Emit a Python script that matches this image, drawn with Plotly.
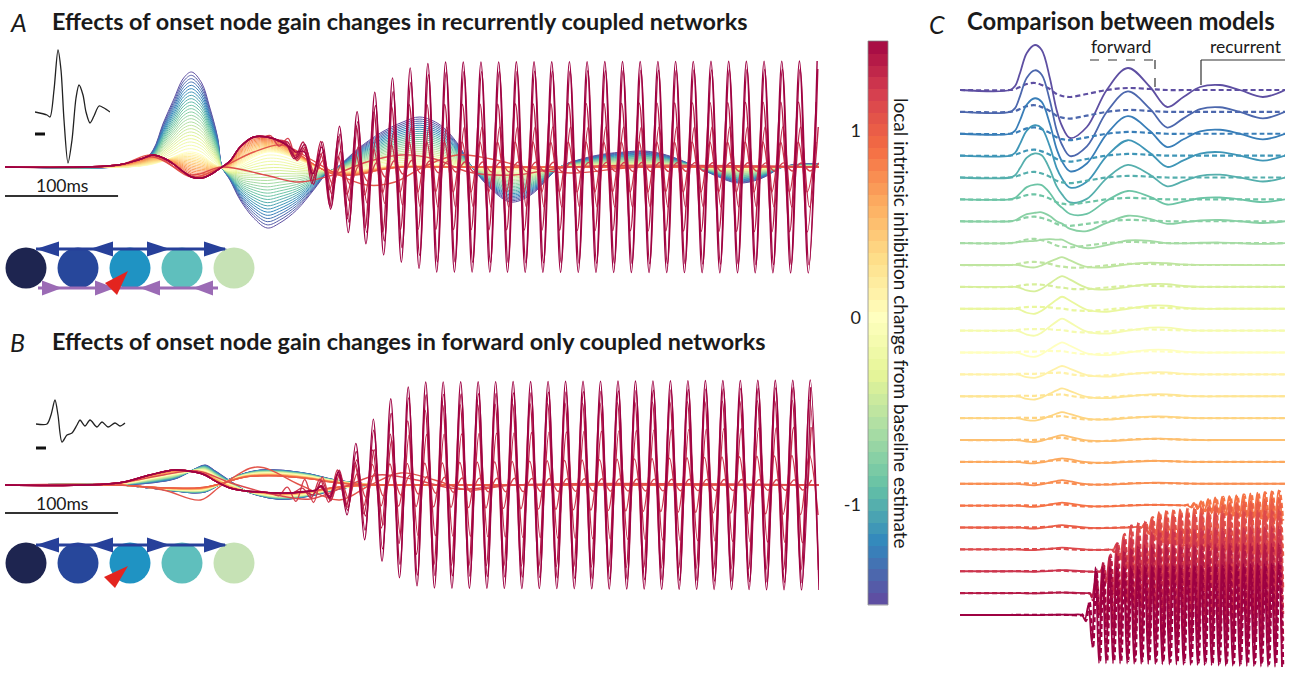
import numpy as np
import plotly.graph_objects as go
from plotly.colors import diverging, make_colorscale, sample_colorscale

W, H = 1290, 675

# ---------------------------------------------------------------- data
# colour-bar values (local intrinsic inhibition change) of the simulated traces
GAINS = [-1.5 + 0.0625 * k for k in range(49)]
FAN_MAX = 1.0           # traces above this gain turn oscillatory / slow-wave

# ---- Panel A: recurrent network, waveform templates (time ms, amplitude)
TA = [0, 100, 120, 131, 140, 149, 158, 165, 174, 181, 188, 192, 199, 208, 220, 232, 243, 258, 273, 285,
      294, 312, 332, 352, 367, 385, 400, 413, 430, 447, 465, 491, 510, 530, 548, 566, 585, 606, 627, 648,
      668, 688, 705, 720]
A_NEG = [0, 0, 4, 17, 44, 67, 89, 95, 84, 60, 30, 0, -13, -33, -51, -61, -56, -43, -23, -6,
         0, 18, 34, 45, 50, 42, 24, 0, -22, -35, -28, 0, 8, 13, 15, 16, 12, 3, -8, -16,
         -12, 0, 3, 3]
A_ZERO = [0, 0, 1, 3, 6, 10, 14, 15, 12, 6, 1, -1, -3, 2, 10, 15, 14, 8, 1, -3,
          -4, -3, 0, 1, 1, 1, 0, 0, -1, -1, -1, 0, 0, 0, 0, 0, 0, 0, 0, 0,
          0, 0, 0, 0]
A_POS = [0, 2, 8, 12, 9, 3, -5, -10, -11, -8, -3, 0, 6, 20, 30, 30, 26, 15, 3, -5,
         -8, -8, -3, 0, 0, 0, 0, 0, 0, 0, 0, 0, 0, 0, 0, 0, 0, 0, 0, 0,
         0, 0, 0, 0]
A_SLOW1_T = [0, 100, 131, 165, 192, 220, 245, 270, 290, 320, 345, 370, 400, 430, 460, 500, 560, 720]
A_SLOW1_V = [0, 2, 12, -10, 0, 15, 22, 8, -5, -18, -15, 0, 12, 8, 0, -6, 0, 0]
A_SLOW2_T = [0, 100, 131, 165, 192, 230, 260, 290, 320, 350, 380, 410, 450, 500, 720]
A_SLOW2_V = [0, 2, 10, -8, 0, -8, -15, -8, 5, 12, 8, -5, -8, 0, 0]
A_PERIOD = 15.65
A_PEAK_REF = 358.4
A_OSC_GAINS = [1.1875, 1.25, 1.3125, 1.375, 1.4375, 1.5]
A_OSC_ENV_T = [[228, 250, 290, 330, 400, 720], [240, 290, 350, 720], [240, 300, 360, 720],
               [245, 290, 330, 720], [250, 295, 340, 380, 720],
               [255, 275, 290, 300, 315, 330, 345, 360, 380, 720]]
A_OSC_ENV_A = [[0, 8, 10, 8, 5, 4], [0, 18, 25, 25], [0, 25, 40, 40],
               [0, 35, 62, 65], [0, 40, 75, 95, 98],
               [0, 12, 40, 55, 66, 82, 92, 100, 105, 106]]
A_OSC_SHIFT = [1.5, -1.0, 1.0, -0.8, 0.6, 0]

# ---- Panel B: forward-only network, two node families
TB = [0, 100, 128, 150, 168, 177, 186, 199, 213, 226, 240, 252, 270, 288, 305, 330, 360, 720]
B1_NEG = [0, 0, 2, 6, 16, 20, 14, 4, -6, -11, -14, -14, -11, -6, -2, 0, 0, 0]
B1_POS = [0, 2, 10, 15, 13, 10, 4, -3, -6, -7, -8, -8, -6, -3, -1, 0, 0, 0]
B2_NEG = [0, 0, -3, -6, -8, -7, -2, 6, 12, 15, 15, 14, 11, 6, 3, 0, 0, 0]
B2_POS = [0, 0, -2, -3, -3, -2, 0, 4, 8, 9, 9, 8, 6, 3, 1, 0, 0, 0]
B_SLOW1_T = [0, 100, 140, 173, 192, 223, 261, 296, 323, 350, 380, 410, 450, 720]
B_SLOW1_V = [0, 0, -5, -15, 0, 18, 0, -15, 0, 12, 5, -5, 0, 0]
B_SLOW2_T = [0, 100, 140, 170, 200, 240, 270, 300, 330, 360, 400, 450, 720]
B_SLOW2_V = [0, 2, 10, 14, 2, -10, -14, -2, 10, 6, -4, 0, 0]
B_PERIOD = 15.46
B_PEAK_REF = 387.6
B_OSC_GAINS = [1.1875, 1.25, 1.3125, 1.375, 1.4375, 1.5]
B_OSC_ENV_T = [[235, 265, 320, 400, 720], [255, 300, 720], [265, 310, 350, 720],
               [275, 320, 350, 380, 720], [275, 300, 330, 360, 720],
               [275, 295, 310, 325, 341, 354, 370, 720]]
B_OSC_ENV_A = [[0, 12, 12, 7, 5], [0, 20, 30], [0, 25, 50, 58],
               [0, 30, 60, 80, 85], [0, 20, 60, 90, 98],
               [0, 15, 42, 65, 86, 97, 103, 105]]
B_OSC_SHIFT = [1.2, -0.8, 0.8, -0.5, 0.4, 0]

# ---- insets (average evoked response, ms-like units, amplitude)
INSET_A_T = [0, 12, 15, 19, 23, 26, 29, 33, 37, 41, 44, 48, 51, 55, 59, 64, 69, 75]
INSET_A_V = [0, -3, -5, 22, 62, 42, -8, -51, -28, 14, 27, 17, 0, -11, -4, 6, 4, 0]
INSET_B_T = [0, 11, 15, 19, 22, 26, 31, 36, 41, 44, 49, 54, 61, 66, 72, 79, 84, 89]
INSET_B_V = [0, 0, 9, 24, 9, -18, -11, -9, -1, 4, -2, 4, -3, 2, -3, 1, -2, 1]

# ---- Panel C: comparison (solid = recurrent, dashed = forward), 25 rows
C_GAINS = [-1.5 + 0.125 * i for i in range(25)]
TC = [0, 111, 122, 133, 148, 166, 181, 199, 214, 226, 244, 281, 325, 372, 421, 459, 495, 532, 576, 620, 671, 720]
C_NEG = [0, 0, 4, 17, 37, 45, 40, 12, -20, -36, -48, -37, 0, 22, 3, -17, -7, 3, 5, 0, -7, 0]
C_MID = [0, 0, 0, -1, -4, -5, -2, 4, 9, 12, 8, -1, -3, 0, 3, 3, 1, 0, 0, 0, 0, 0]
D_NEG = [0, 0, 1, 3, 6, 7, 5, 1, -4, -6, -7, -4, 0, 2, 1, 0, 0, 0, 0, 0, 0, 0]
C_S_NEG = [1.0, 0.93, 0.8, 0.7, 0.57, 0.38, 0.25, 0.12, 0.03] + [0] * 16
C_S_MID = [0, 0.05, 0.1, 0.2, 0.3, 0.45, 0.55, 0.65, 0.75, 0.9, 1.0, 1.0, 0.85,
           0.7, 0.65, 0.5, 0.4, 0.3, 0.3, 0.25, 0.2, 0.15, 0.1, 0.05, 0.03]
D_S_NEG = [1.0, 0.95, 0.9, 0.85, 0.8, 0.72, 0.65, 0.6, 0.55, 0.5, 0.45, 0.4, 0.35,
           0.3, 0.28, 0.25, 0.22, 0.2, 0.18, 0.16, 0.14, 0.12, 0.1, 0.08, 0.06]
D_S_MID = [0] * 8 + [0.15, 0.2, 0.25, 0.25, 0.3, 0.3, 0.3, 0.3, 0.3, 0.25, 0.2, 0.2, 0.15, 0.1, 0.1, 0.1, 0.05]
C_OSC_ROWS = [19, 20, 21, 22, 23, 24]
C_OSC_ENV_T = [[499, 560, 720], [399, 440, 600, 720], [337, 380, 500, 720],
               [310, 350, 450, 720], [288, 320, 400, 720], [270, 285, 300, 720]]
C_OSC_ENV_A = [[0, 8, 16], [0, 15, 25, 30], [0, 25, 36, 40],
               [0, 30, 42, 45], [0, 35, 48, 50], [0, 10, 48, 52]]
C_PERIOD = 15.6
C_PEAK_REF = 300.0

# colour-bar tick labels
CB_TICKS = [-1, 0, 1]
CB_TICKTEXT = ['-1', '0', '1']

# ---------------------------------------------------------------- helpers
SPEC = make_colorscale(diverging.Spectral[::-1])


def gain_color(g):
    return sample_colorscale(SPEC, [min(max((g + 1.5) / 3.0, 0), 1)])[0]


def fan3(g, neg, zero, pos):
    neg, zero, pos = map(np.asarray, (neg, zero, pos))
    if g <= 0:
        return zero + (-g / 1.5) * (neg - zero)
    return zero + min(g, FAN_MAX) * (pos - zero)


def fan2(g, neg, pos):
    neg, pos = np.asarray(neg), np.asarray(pos)
    w = (min(g, FAN_MAX) + 1.5) / (FAN_MAX + 1.5)
    return neg + w * (pos - neg)


def oscillate(pre_t, pre_v, env_t, env_a, peak_ref, period, shift, t_end=720.0):
    half = period / 2.0
    onset = env_t[0]
    ts = [t for t in pre_t if t < onset]
    vs = [v for t, v in zip(pre_t, pre_v) if t < onset]
    ts.append(onset)
    vs.append(float(np.interp(onset, pre_t, pre_v)))
    ref = peak_ref + shift
    k = int(np.ceil((onset - ref) / half))
    while True:
        tk = ref + k * half
        if tk > t_end:
            break
        if tk > onset:
            a = float(np.interp(tk, env_t, env_a))
            base = float(np.interp(tk, pre_t, pre_v))
            ts.append(tk)
            vs.append(base + (a if k % 2 == 0 else -a))
        k += 1
    return ts, vs


fig = go.Figure()


def line(x, y, color, width, ax, dash=None, smoothing=1.0):
    fig.add_trace(go.Scatter(
        x=list(x), y=list(y), mode='lines', xaxis='x' + ax, yaxis='y' + ax,
        line=dict(color=color, width=width, shape='spline', smoothing=smoothing, dash=dash),
        hoverinfo='skip', showlegend=False))


# ---------------------------------------------------------------- panel A
for g in GAINS:
    if g <= FAN_MAX:
        line(TA, fan3(g, A_NEG, A_ZERO, A_POS), gain_color(g), 1.0, '')
line(A_SLOW1_T, A_SLOW1_V, gain_color(1.0625), 1.4, '')
line(A_SLOW2_T, A_SLOW2_V, gain_color(1.125), 1.4, '')
for g, et, ea, sh in zip(A_OSC_GAINS, A_OSC_ENV_T, A_OSC_ENV_A, A_OSC_SHIFT):
    t, v = oscillate(TA, A_POS, et, ea, A_PEAK_REF, A_PERIOD, sh)
    line(t, v, gain_color(g), 1.4, '')

# ---------------------------------------------------------------- panel B
for g in GAINS:
    if g <= FAN_MAX:
        line(TB, fan2(g, B1_NEG, B1_POS), gain_color(g), 1.2, '2')
        line(TB, fan2(g, B2_NEG, B2_POS), gain_color(g), 1.2, '2')
line(B_SLOW1_T, B_SLOW1_V, gain_color(1.0625), 1.4, '2')
line(B_SLOW2_T, B_SLOW2_V, gain_color(1.125), 1.4, '2')
for g, et, ea, sh in zip(B_OSC_GAINS, B_OSC_ENV_T, B_OSC_ENV_A, B_OSC_SHIFT):
    t, v = oscillate(TB, B1_POS, et, ea, B_PEAK_REF, B_PERIOD, sh)
    line(t, v, gain_color(g), 1.4, '2')

# ---------------------------------------------------------------- panel C
C_ROW_BASE = [90 + 21.875 * i for i in range(25)]
for i, g in enumerate(C_GAINS):
    c = gain_color(g)
    solid = C_S_NEG[i] * np.asarray(C_NEG) + C_S_MID[i] * np.asarray(C_MID)
    dashed = D_S_NEG[i] * np.asarray(D_NEG) + D_S_MID[i] * np.asarray(C_MID)
    st, sv, dt, dv = TC, solid, TC, dashed
    if i in C_OSC_ROWS:
        j = C_OSC_ROWS.index(i)
        st, sv = oscillate(TC, solid, C_OSC_ENV_T[j], C_OSC_ENV_A[j], C_PEAK_REF, C_PERIOD, 0)
        dt, dv = oscillate(TC, dashed, C_OSC_ENV_T[j], [a * 0.95 for a in C_OSC_ENV_A[j]],
                           C_PEAK_REF, C_PERIOD, 2.5)
    line(dt, [-C_ROW_BASE[i] + v for v in dv], c, 2.2, '3', dash='5px,3px')
    line(st, [-C_ROW_BASE[i] + v for v in sv], c, 1.8, '3')

# ---------------------------------------------------------------- insets
line(INSET_A_T, INSET_A_V, '#222222', 1.3, '5', smoothing=0.8)
line(INSET_B_T, INSET_B_V, '#222222', 1.3, '6', smoothing=0.8)

# ---------------------------------------------------------------- colour bar (stepped strip)
fig.add_trace(go.Heatmap(
    x=[0], y=GAINS, z=[[v] for v in GAINS], colorscale=SPEC, zmin=-1.5, zmax=1.5,
    showscale=False, xaxis='x4', yaxis='y4', hoverinfo='skip'))


# ---------------------------------------------------------------- layout
def dom_x(a, b):
    return [a / W, b / W]


def dom_y(top, bottom):
    return [1 - bottom / H, 1 - top / H]


hidden = dict(visible=False, showgrid=False, zeroline=False, fixedrange=True)
layout = dict(
    width=W, height=H, margin=dict(l=0, r=0, t=0, b=0, pad=0),
    paper_bgcolor='white', plot_bgcolor='rgba(0,0,0,0)',
    font=dict(family='Lato, Open Sans, sans-serif', color='#1a1a1a'),
    xaxis=dict(hidden, domain=dom_x(5, 819), range=[0, 720]),
    yaxis=dict(hidden, domain=dom_y(47, 287), range=[-120, 120]),
    xaxis2=dict(hidden, domain=dom_x(5, 819), range=[0, 720]),
    yaxis2=dict(hidden, domain=dom_y(365, 605), range=[-120, 120]),
    xaxis3=dict(hidden, domain=dom_x(960, 1285), range=[0, 720]),
    yaxis3=dict(hidden, domain=[0, 1], range=[-675, 0]),
    xaxis4=dict(hidden, domain=dom_x(868, 888), range=[-0.5, 0.5]),
    yaxis4=dict(showgrid=False, zeroline=False, fixedrange=True, domain=dom_y(41, 605),
                range=[-1.533, 1.476], tickvals=CB_TICKS, ticktext=CB_TICKTEXT, ticks='',
                showline=False, tickfont=dict(size=18, color='#222'), anchor='x4', side='left',
                ticklabelstandoff=6),
    xaxis5=dict(hidden, domain=dom_x(35, 110), range=[0, 75]),
    yaxis5=dict(hidden, domain=dom_y(40, 180), range=[-68, 72]),
    xaxis6=dict(hidden, domain=dom_x(36, 126), range=[0, 90]),
    yaxis6=dict(hidden, domain=dom_y(380, 470), range=[-46, 44]),
)
for k in ['', '2', '3', '5', '6']:
    layout['yaxis' + k]['anchor'] = 'x' + k
    layout['xaxis' + k]['anchor'] = 'y' + k
layout['xaxis4']['anchor'] = 'y4'
fig.update_layout(**layout)

shapes = []


def circle(cx, cy, r, color):
    shapes.append(dict(type='circle', xref='paper', yref='paper', x0=(cx - r) / W, x1=(cx + r) / W,
                       y0=1 - (cy + r) / H, y1=1 - (cy - r) / H, fillcolor=color, line=dict(width=0)))


def poly(pts, color):
    path = 'M ' + ' L '.join(f'{x / W:.5f},{1 - y / H:.5f}' for x, y in pts) + ' Z'
    shapes.append(dict(type='path', xref='paper', yref='paper', path=path, fillcolor=color, line=dict(width=0)))


def seg(x0, y0, x1, y1, color, width, dash=None):
    shapes.append(dict(type='line', xref='paper', yref='paper', x0=x0 / W, y0=1 - y0 / H,
                       x1=x1 / W, y1=1 - y1 / H, line=dict(color=color, width=width, dash=dash)))


def head(tip_x, y, direction, color, length=23, half=7.5):
    base = tip_x - direction * length
    poly([(tip_x, y), (base, y - half), (base, y + half)], color)


NODE_COLORS = ['#1e2550', '#27479b', '#1f93c3', '#5fbfbd', '#c6e2b5']
NODE_X = [26, 78, 130, 182, 234]
BLUE, PURPLE, RED = '#27409a', '#9b6bb5', '#e3241f'
for cy, top_y, bottom_y, red_tri in [(268, 249, 288, [(105, 283), (128, 271), (117, 295)]),
                                     (563, 545, None, [(104, 577), (128, 566), (115, 588)])]:
    for x, col in zip(NODE_X, NODE_COLORS):
        circle(x, cy, 20.5, col)
    seg(36, top_y, 225, top_y, BLUE, 3)
    head(36, top_y, -1, BLUE)
    head(90, top_y, -1, BLUE)
    head(170, top_y, 1, BLUE)
    head(227, top_y, 1, BLUE)
    if bottom_y is not None:
        seg(38, bottom_y, 218, bottom_y, PURPLE, 3)
        head(62, bottom_y, 1, PURPLE, 20)
        head(115, bottom_y, 1, PURPLE, 20)
        head(140, bottom_y, -1, PURPLE, 20)
        head(193, bottom_y, -1, PURPLE, 20)
    poly(red_tri, RED)

# colour-bar outline
shapes.append(dict(type='rect', xref='paper', yref='paper', x0=868 / W, x1=888 / W,
                   y0=1 - 605 / H, y1=1 - 41 / H, line=dict(color='#8a8a8a', width=0.8)))
# inset scale bars
seg(35, 134, 45, 134, '#111', 3)
seg(36, 448, 46, 448, '#111', 3)
# 100 ms scale bars drawn in data units of the time axes
for xr, ypx in [('x', 196), ('x2', 513)]:
    shapes.append(dict(type='line', xref=xr, yref='paper', x0=0, x1=100, y0=1 - ypx / H, y1=1 - ypx / H,
                       line=dict(color='#333', width=2)))
# forward / recurrent keys in panel C
seg(1090, 60, 1155, 60, '#333', 1.2, 'dash')
seg(1155, 60, 1155, 88, '#333', 1.2, 'dash')
seg(1285, 60, 1201, 60, '#333', 1.2)
seg(1201, 60, 1201, 85, '#333', 1.2)
fig.update_layout(shapes=shapes)

ann = []


def text(x, y, s, size, xanchor='left', weight='normal', style='normal', angle=0, color='#1a1a1a'):
    ann.append(dict(x=x / W, y=1 - y / H, xref='paper', yref='paper', text=s, showarrow=False,
                    xanchor=xanchor, yanchor='middle', textangle=angle,
                    font=dict(size=size, weight=weight, style=style, color=color)))


text(8, 22, 'A', 25, style='italic')
text(50, 21, 'Effects of onset node gain changes in recurrently coupled networks', 23.4, weight='bold')
text(8, 342, 'B', 25, style='italic')
text(50, 341, 'Effects of onset node gain changes in forward only coupled networks', 23.4, weight='bold')
text(927, 24, 'C', 25, style='italic')
text(965, 21, 'Comparison between models', 23.8, weight='bold')
text(62, 185, '100ms', 17.5, xanchor='center')
text(62, 503, '100ms', 17.5, xanchor='center')
text(1121, 47, 'forward', 17.5, xanchor='center')
text(1246, 47, 'recurrent', 17.5, xanchor='center')
ann.append(dict(x=902 / W, y=1 - 323 / H, xref='paper', yref='paper', showarrow=False,
                text='local intrinsic inhibition change from baseline estimate', textangle=90,
                xanchor='center', yanchor='middle', font=dict(size=19, color='#1a1a1a')))
fig.update_layout(annotations=ann)

fig.write_html('out.html', config={'displayModeBar': False},
               post_script="document.body.style.margin='0px';")
